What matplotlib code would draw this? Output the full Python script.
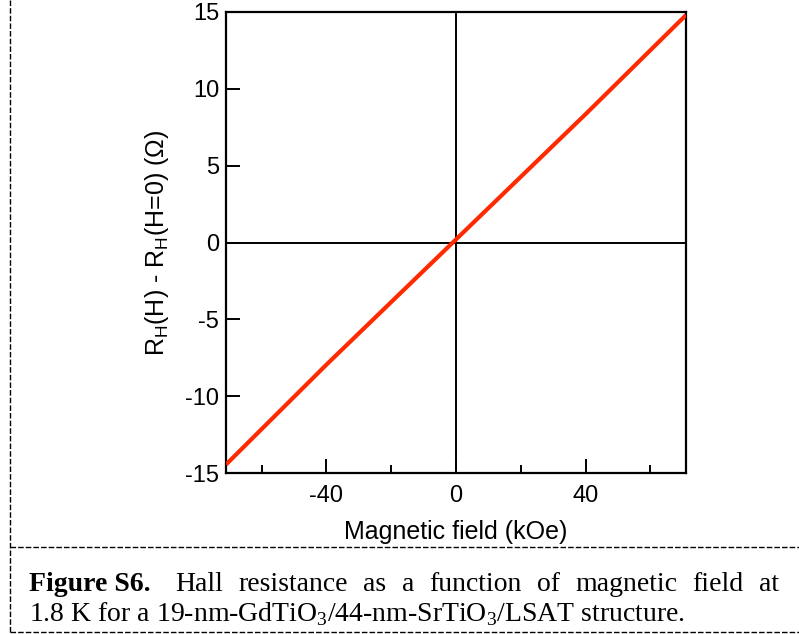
import matplotlib
matplotlib.use("Agg")
import matplotlib.pyplot as plt
from matplotlib.lines import Line2D
from matplotlib.ticker import MultipleLocator

plt.rcParams['font.family'] = ['Liberation Sans', 'DejaVu Sans']
plt.rcParams['mathtext.fontset'] = 'custom'
plt.rcParams['mathtext.rm'] = 'Liberation Sans'
plt.rcParams['mathtext.it'] = 'Liberation Sans'
plt.rcParams['axes.unicode_minus'] = False

# Hall data (linear trace)
field_koe = [-71, -40, 0, 40, 71]
hall_ohm = [-14.45, -7.95, 0.2, 8.35, 14.8]

x_major = [-40, 0, 40]
y_major = [-15, -10, -5, 0, 5, 10, 15]

caption_line1 = ["Hall", "resistance", "as", "a", "function", "of", "magnetic", "field", "at"]
caption_line2 = "1.8 K for a 19-nm-GdTiO$_3$/44-nm-SrTiO$_3$/LSAT structure."

W, H = 799, 634
fig = plt.figure(figsize=(W / 100, H / 100), dpi=100)
ax = fig.add_axes([226 / W, 1 - 473 / H, 460 / W, 461 / H])

ax.plot(field_koe, hall_ohm, color='#ff2a00', lw=3.0, solid_capstyle='butt', zorder=3)
ax.axhline(0, color='black', lw=1.4, zorder=2)
ax.axvline(0, color='black', lw=1.4, zorder=2)

ax.set_xlim(-71, 71)
ax.set_ylim(-15, 15)
ax.set_xticks(x_major)
ax.xaxis.set_minor_locator(MultipleLocator(20))
ax.set_yticks(y_major)
ax.tick_params(axis='both', which='major', direction='in', length=10, width=1.4,
               labelsize=17, top=False, right=False)
ax.tick_params(axis='x', which='minor', direction='in', length=6, width=1.4, top=False)
ax.tick_params(axis='y', which='minor', left=False, right=False)
ax.tick_params(axis='x', pad=9)
ax.tick_params(axis='y', pad=5)
for s in ax.spines.values():
    s.set_linewidth(1.6)

ax.set_xlabel('Magnetic field (kOe)', fontsize=18, labelpad=9)
ax.set_ylabel(r'R$_\mathrm{H}$(H) - R$_\mathrm{H}$(H=0) ($\Omega$)', fontsize=18, labelpad=10)

# dashed frame of the figure panel
def hline(y, x0, x1):
    fig.add_artist(Line2D([x0 / W, x1 / W], [1 - y / H, 1 - y / H], color='black',
                          lw=1.0, ls=(0, (4, 1.5)), transform=fig.transFigure))

def vline(x, y0, y1):
    fig.add_artist(Line2D([x / W, x / W], [1 - y0 / H, 1 - y1 / H], color='black',
                          lw=1.0, ls=(0, (4, 1.5)), transform=fig.transFigure))

vline(10, 0, 632)
hline(547, 10, 799)
hline(632, 10, 799)

# caption, first line justified
serif = ['Liberation Serif', 'DejaVu Serif']
cap_fs = 20
y1 = 1 - 591 / H
y2 = 1 - 622 / H
fig.canvas.draw()
r = fig.canvas.get_renderer()
t0 = fig.text(29 / W, y1, "Figure S6.", fontsize=cap_fs, family=serif, weight='bold', va='baseline')
words = [fig.text(0, y1, w, fontsize=cap_fs, family=serif, va='baseline') for w in caption_line1]
w0 = t0.get_window_extent(r).width
ww = [t.get_window_extent(r).width for t in words]
left = 29 + w0
right = 779
gap = (right - left - sum(ww)) / (len(words) + 0.6)
x = left + gap * 1.6
for t, w in zip(words, ww):
    t.set_x(x / W)
    x += w + gap

plt.rcParams['mathtext.rm'] = 'Liberation Serif'
fig.text(29 / W, y2, caption_line2, fontsize=cap_fs, family=serif, va='baseline')

fig.savefig('out.png', dpi=100)
